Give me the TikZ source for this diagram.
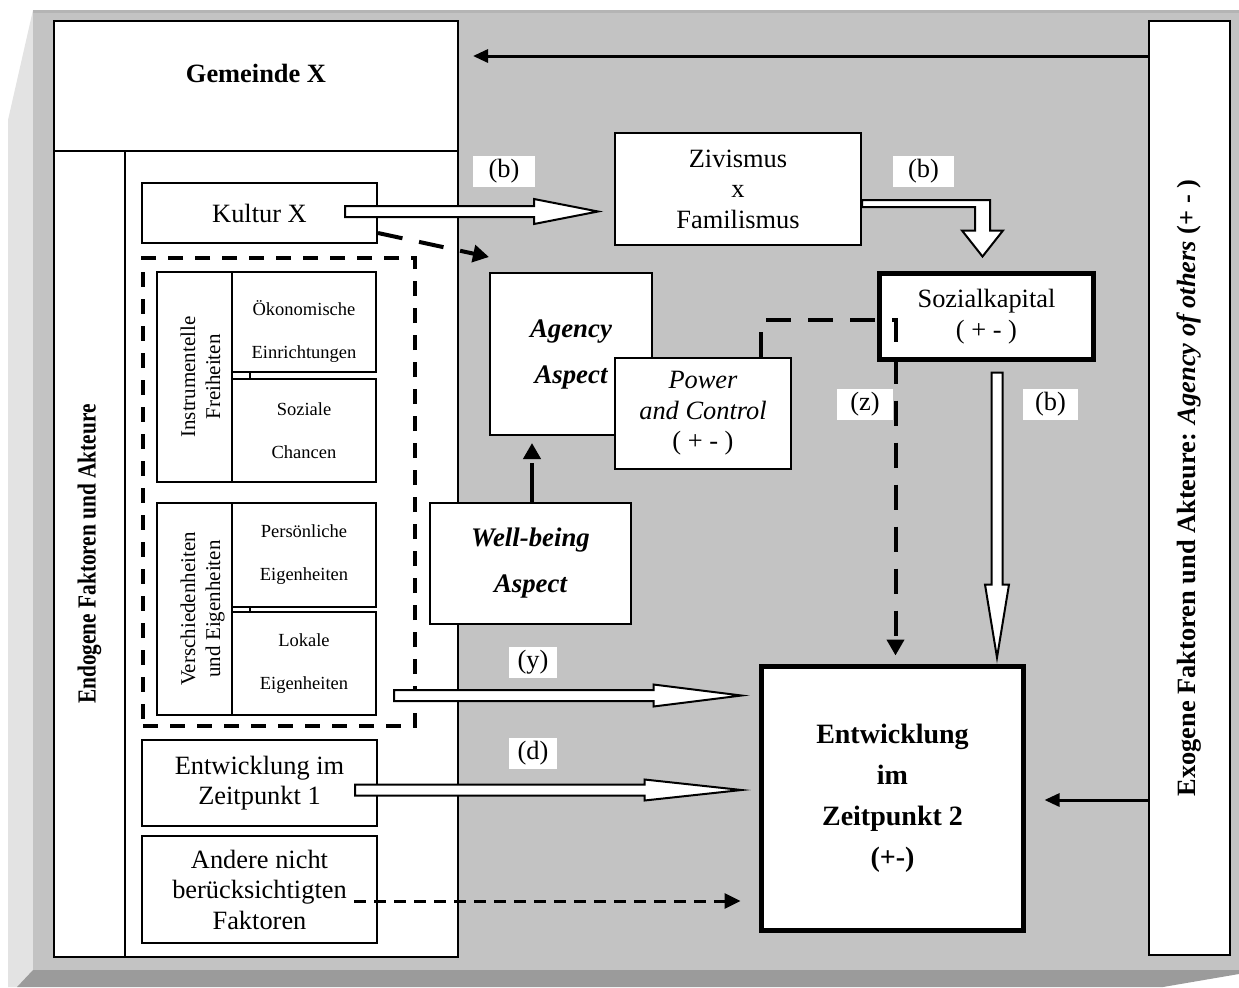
\documentclass[tikz,border=0pt]{standalone}
\usepackage{fontspec}
\setmainfont{Liberation Serif}
\newfontfamily\narrowbf[FakeStretch=0.82]{Liberation Serif}
\usepackage{tikz}
\usetikzlibrary{arrows.meta,positioning,calc}

\definecolor{frameGray}{HTML}{C3C3C3}
\definecolor{frameLight}{HTML}{E3E3E3}
\definecolor{frameDark}{HTML}{9B9B9B}
\definecolor{frameLine}{HTML}{B4B4B4}

% hollow block arrows: shaft half width, head half width, head length, from, tip
\newcommand{\hollowright}[5]{%
  \draw[hollow] let \p1=(#4), \p2=(#5) in
    (\x1,\y1+#1) -- (\x2-#3,\y1+#1) -- (\x2-#3,\y1+#2) -- (\x2,\y1)
    -- (\x2-#3,\y1-#2) -- (\x2-#3,\y1-#1) -- (\x1,\y1-#1) -- cycle;}
\newcommand{\hollowdown}[5]{%
  \draw[hollow] let \p1=(#4), \p2=(#5) in
    (\x1-#1,\y1) -- (\x1-#1,\y2+#3) -- (\x1-#2,\y2+#3) -- (\x1,\y2)
    -- (\x1+#2,\y2+#3) -- (\x1+#1,\y2+#3) -- (\x1+#1,\y1) -- cycle;}
% rotated two-line label, nudged to the right
\newcommand{\sidetext}[2]{\rotatebox{90}{\raisebox{-4pt}[\height][\depth]{\begin{tabular}{@{}c@{}}#1\\#2\end{tabular}}}}

\begin{document}
\begin{tikzpicture}[
        x=0.5pt, y=-0.5pt,
        box/.style={rectangle, draw=black, line width=1pt, fill=white, inner sep=0pt, align=center, font=\fontsize{13.2}{15.25}\selectfont},
        thickbox/.style={box, line width=2.5pt},
        smallbox/.style={box, minimum width=72pt, font=\fontsize{9.25}{21.5}\selectfont},
        sidebox/.style={box, minimum width=37.5pt, font=\fontsize{10.5}{12.5}\selectfont},
        aspect/.style={box, font=\fontsize{13.4}{23}\selectfont\bfseries\itshape},
        tag/.style={rectangle, fill=white, inner sep=0pt, minimum height=15.5pt, font=\fontsize{13.2}{15}\selectfont},
        hollow/.style={draw=black, line width=1pt, fill=white, line join=miter},
        dasharrow/.style={line width=2pt, dash pattern=on 12.5pt off 8.5pt, -{Triangle[length=8pt,width=8.5pt]}},
        thindash/.style={line width=1.5pt, dash pattern=on 6pt off 4pt, -{Triangle[length=8pt,width=7.5pt]}},
        exoarrow/.style={line width=1.5pt, -{Triangle[length=7.5pt,width=6.5pt]}}
    ]
        \useasboundingbox (0,0) rectangle (1239,987);

        % Frame
        \fill[frameLight] (33,10) -- (8,120) -- (8,987) -- (17,987) -- (33,970) -- cycle;
        \fill[frameGray] (33,10) rectangle (1239,970);
        \fill[frameLine] (33,10) rectangle (1239,13);
        \fill[frameDark] (33,970) -- (1239,970) -- (1239,974) -- (1163,987) -- (17,987) -- cycle;

        % Nodes
        \node[box, minimum width=202pt, minimum height=65pt, label={[font=\fontsize{13.2}{15}\selectfont\bfseries, yshift=6.5pt]center:Gemeinde X}] (gemeinde) at (256,86) {};
        \node[box, minimum width=35.5pt, minimum height=403pt] (endocol) at (89.5,554) {\rotatebox{90}{\narrowbf\bfseries\fontsize{13}{15}\selectfont Endogene Faktoren und Akteure}};
        \node[box, minimum width=166.5pt, minimum height=403pt] (endobody) at (291.5,554) {};
        \node[box, minimum width=40.5pt, minimum height=467pt] (exo) at (1189.5,488) {\rotatebox{90}{\bfseries Exogene Faktoren und Akteure: \textit{Agency of others} (+ - )}};

        \node[box, minimum width=117.5pt, minimum height=30pt] (kultur) at (259.5,213) {Kultur X};
        \node[sidebox, minimum height=105pt] (instr) at (194.5,377) {\sidetext{Instrumentelle}{Freiheiten}};
        \node[smallbox, minimum height=50pt] (oekon) at (304,322) {\raisebox{-3pt}[\height][\depth]{\begin{tabular}{@{}c@{}}Ökonomische\\Einrichtungen\end{tabular}}};
        \node[smallbox, minimum height=51.5pt, below=2.5pt of oekon] (sozch) {Soziale\\Chancen};
        \node[sidebox, minimum height=106pt] (versch) at (194.5,609) {\sidetext{Verschiedenheiten}{und Eigenheiten}};
        \node[smallbox, minimum height=52pt] (persoen) at (304,555) {Persönliche\\Eigenheiten};
        \node[smallbox, minimum height=51.5pt, below=1.5pt of persoen] (lokal) {Lokale\\Eigenheiten};
        \draw[line width=1pt] ([xshift=-27pt]oekon.south) -- ([xshift=-27pt]sozch.north);
        \draw[line width=1pt] ([xshift=-27pt]persoen.south) -- ([xshift=-27pt]lokal.north);
        \node[draw, line width=2pt, dash pattern=on 7.5pt off 6pt, minimum width=136pt, minimum height=234pt, inner sep=0pt] (gruppe) at (279,492) {};

        \node[box, minimum width=117.5pt, minimum height=43pt] (entw1) at (259.5,783) {Entwicklung im\\Zeitpunkt 1};
        \node[box, minimum width=117.5pt, minimum height=53.5pt] (andere) at (259.5,889.5) {Andere nicht\\berücksichtigten\\Faktoren};

        \node[box, minimum width=123pt, minimum height=56pt] (ziv) at (738,189) {Zivismus\\x\\Familismus};
        \node[aspect, minimum width=81pt, minimum height=81pt] (agency) at (571,354) {Agency\\Aspect};
        \node[box, minimum width=88pt, minimum height=55.5pt] (power) at (703,413.5) {\textit{Power}\\\textit{and Control}\\( + - )};
        \node[aspect, minimum width=100.5pt, minimum height=60.5pt] (well) at (530.5,563.5) {Well-being\\Aspect};
        \node[thickbox, minimum width=107pt, minimum height=43pt] (sozkap) at (986.5,316.5) {Sozialkapital\\( + - )};
        \node[thickbox, minimum width=131pt, minimum height=132pt, font=\fontsize{14}{20.5}\selectfont\bfseries] (entw2) at (892.5,798.5) {Entwicklung\\im\\Zeitpunkt 2\\(+-)};

        % Block arrows
        \hollowright{2.75pt}{6.25pt}{32pt}{$(kultur.east)+(-33,-1.5)$}{$(ziv.west)+(-16,0)$}
        \hollowright{2.75pt}{5.5pt}{44pt}{$(lokal.east)+(17,32)$}{$(entw2.west)+(-17.5,0)$}
        \hollowright{2.75pt}{5.25pt}{48.5pt}{$(entw1.east)+(-23,7)$}{$(entw2.west)+(-17.5,0)$}
        \hollowdown{2.75pt}{6pt}{36.5pt}{$(sozkap.south)+(10.5,10.5)$}{$(entw2.north)+(0,-6.5)$}
        \draw[hollow] let \p1=($(ziv.east)+(0,14.5)$), \p2=($(sozkap.north)+(-4,-14.5)$) in
            (\x1,\y1+1.75pt) -- (\x2+3.75pt,\y1+1.75pt) -- (\x2+3.75pt,\y2+13pt) -- (\x2+10.25pt,\y2+13pt)
            -- (\x2,\y2) -- (\x2-10.25pt,\y2+13pt) -- (\x2-3.75pt,\y2+13pt) -- (\x2-3.75pt,\y1-1.75pt)
            -- (\x1,\y1-1.75pt) -- cycle;

        % Edges
        \coordinate (zknick) at ($(sozkap.west)+(18.5,3.5)$);
        \draw[dasharrow, shorten >=4.25pt] ([xshift=29pt]power.north) |- (zknick) -- (zknick |- entw2.north);
        \draw[dasharrow, dash pattern=on 19.5pt off 8.5pt, shorten >=3.5pt] ([xshift=0.75pt]well.north) -- ([xshift=0.75pt]well.north |- agency.south);
        \draw[dasharrow] ($(kultur.south east)+(0,-11)$) -- ($(agency.north west)+(0,-15)$);
        \coordinate (andereA) at ($(andere.east)+(-24,11.5)$);
        \draw[thindash, shorten >=9.25pt] (andereA) -- (andereA -| entw2.west);
        \coordinate (exoA) at ($(gemeinde.north east)+(14,36)$);
        \draw[exoarrow] (exoA -| exo.west) -- (exoA);
        \coordinate (exoB) at ($(entw2.east)+(18.5,1.5)$);
        \draw[exoarrow] (exoB -| exo.west) -- (exoB);

        % Labels
        \node[tag, minimum width=31pt] (lb1) at (504,171.5) {(b)};
        \node[tag, minimum width=30.5pt] (lb2) at (923.5,171.5) {(b)};
        \node[tag, minimum width=28pt] (lz) at (865,404) {(z)};
        \node[tag, minimum width=27.5pt] (lb3) at (1050.5,404) {(b)};
        \node[tag, minimum width=24pt] (ly) at (533,662) {(y)};
        \node[tag, minimum width=24pt] (ld) at (533,753.5) {(d)};
    \end{tikzpicture}
\end{document}
